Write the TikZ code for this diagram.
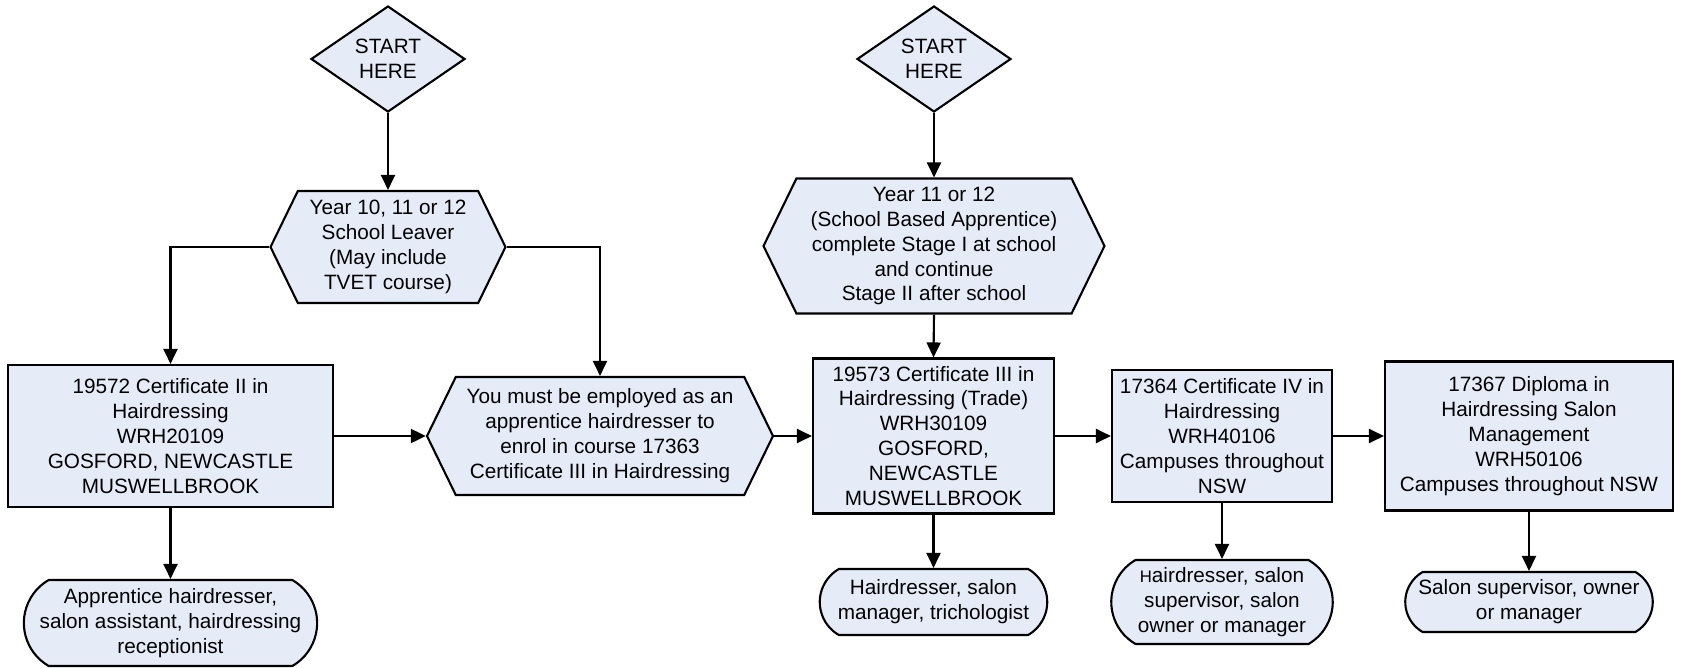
\documentclass[tikz,border=0pt]{standalone}
\usepackage{fontspec}
\setmainfont{Liberation Sans}
\usepackage{xcolor}
\usepackage{tikz}
\usetikzlibrary{shapes.geometric,shapes.misc,shapes.symbols,arrows.meta,positioning}
\definecolor{boxfill}{HTML}{E6ECF7}

\begin{document}
\begin{tikzpicture}[
    every node/.style={font=\fontsize{11.8}{14.2}\selectfont, align=center, draw, line width=1.2pt, fill=boxfill, inner sep=1pt},
    start/.style={diamond, aspect=1.45, inner sep=0pt, minimum width=3.08cm, minimum height=2.12cm},
    stage/.style={signal, signal to=west and east, signal pointer angle=128},
    course/.style={rectangle},
    job/.style={rounded rectangle, rounded rectangle arc length=120},
    link/.style={line width=1.2pt, -{Triangle[length=0.3cm, width=0.28cm]}}
]
    \useasboundingbox (0,0) rectangle (33.7,-13.36);

    % School leaver path
    \node[start] (s1) at (7.76,-1.18) {START\\HERE};
    \node[stage, minimum width=4.7cm, minimum height=2.24cm] (leaver) at (7.76,-4.94) {Year 10, 11 or 12\\School Leaver\\(May include\\TVET course)};
    \node[course, minimum width=6.5cm, minimum height=2.84cm] (cert2) at (3.41,-8.72) {19572 Certificate II in\\Hairdressing\\WRH20109\\GOSFORD, NEWCASTLE\\MUSWELLBROOK};
    \node[job, minimum width=5.58cm, minimum height=1.72cm] (job2) at (3.41,-12.46) {Apprentice hairdresser,\\salon assistant, hairdressing\\receptionist};
    \node[stage, minimum width=6.92cm, minimum height=2.36cm] (employ) at (12.0,-8.72) {You must be employed as an\\apprentice hairdresser to\\enrol in course 17363\\Certificate III in Hairdressing};

    % School based path
    \node[start] (s2) at (18.68,-1.18) {START\\HERE};
    \node[stage, minimum width=6.82cm, minimum height=2.7cm] (school) at (18.68,-4.92) {Year 11 or 12\\(School Based Apprentice)\\complete Stage I at school\\and continue\\Stage II after school};

    % Certificates
    \node[course, minimum width=4.82cm, minimum height=3.1cm] (cert3) at (18.67,-8.72) {19573 Certificate III in\\Hairdressing (Trade)\\WRH30109\\GOSFORD,\\NEWCASTLE\\MUSWELLBROOK};
    \node[course, minimum width=4.4cm, minimum height=2.64cm] (cert4) at (24.44,-8.72) {17364 Certificate IV in\\Hairdressing\\WRH40106\\Campuses throughout\\NSW};
    \node[course, minimum width=5.76cm, minimum height=2.98cm] (dipl) at (30.58,-8.72) {17367 Diploma in\\Hairdressing Salon\\Management\\WRH50106\\Campuses throughout NSW};

    % Jobs
    \node[job, minimum width=4.62cm, minimum height=1.32cm] (job3) at (18.67,-12.04) {Hairdresser, salon\\manager, trichologist};
    \node[job, minimum width=4.5cm, minimum height=1.68cm] (job4) at (24.44,-12.04) {{\fontsize{9.5}{10}\selectfont H}airdresser, salon\\supervisor, salon\\owner or manager};
    \node[job, minimum width=5.02cm, minimum height=1.2cm] (job5) at (30.58,-12.04) {Salon supervisor, owner\\or manager};

    % Flow
    \draw[link] (s1.south) -- (leaver.north);
    \draw[link] (leaver.west) -| (cert2.north);
    \draw[link] (leaver.east) -| (employ.north);
    \draw[link] (cert2.east) -- (employ.west);
    \draw[link] (cert2.south) -- (job2.north);
    \draw[link] (s2.south) -- (school.north);
    \draw[link] (school.south) -- (cert3.north);
    \draw[link] (employ.east) -- (cert3.west);
    \draw[link] (cert3.east) -- (cert4.west);
    \draw[link] (cert4.east) -- (dipl.west);
    \draw[link] (cert3.south) -- (job3.north);
    \draw[link] (cert4.south) -- (job4.north);
    \draw[link] (dipl.south) -- (job5.north);
\end{tikzpicture}
\end{document}
